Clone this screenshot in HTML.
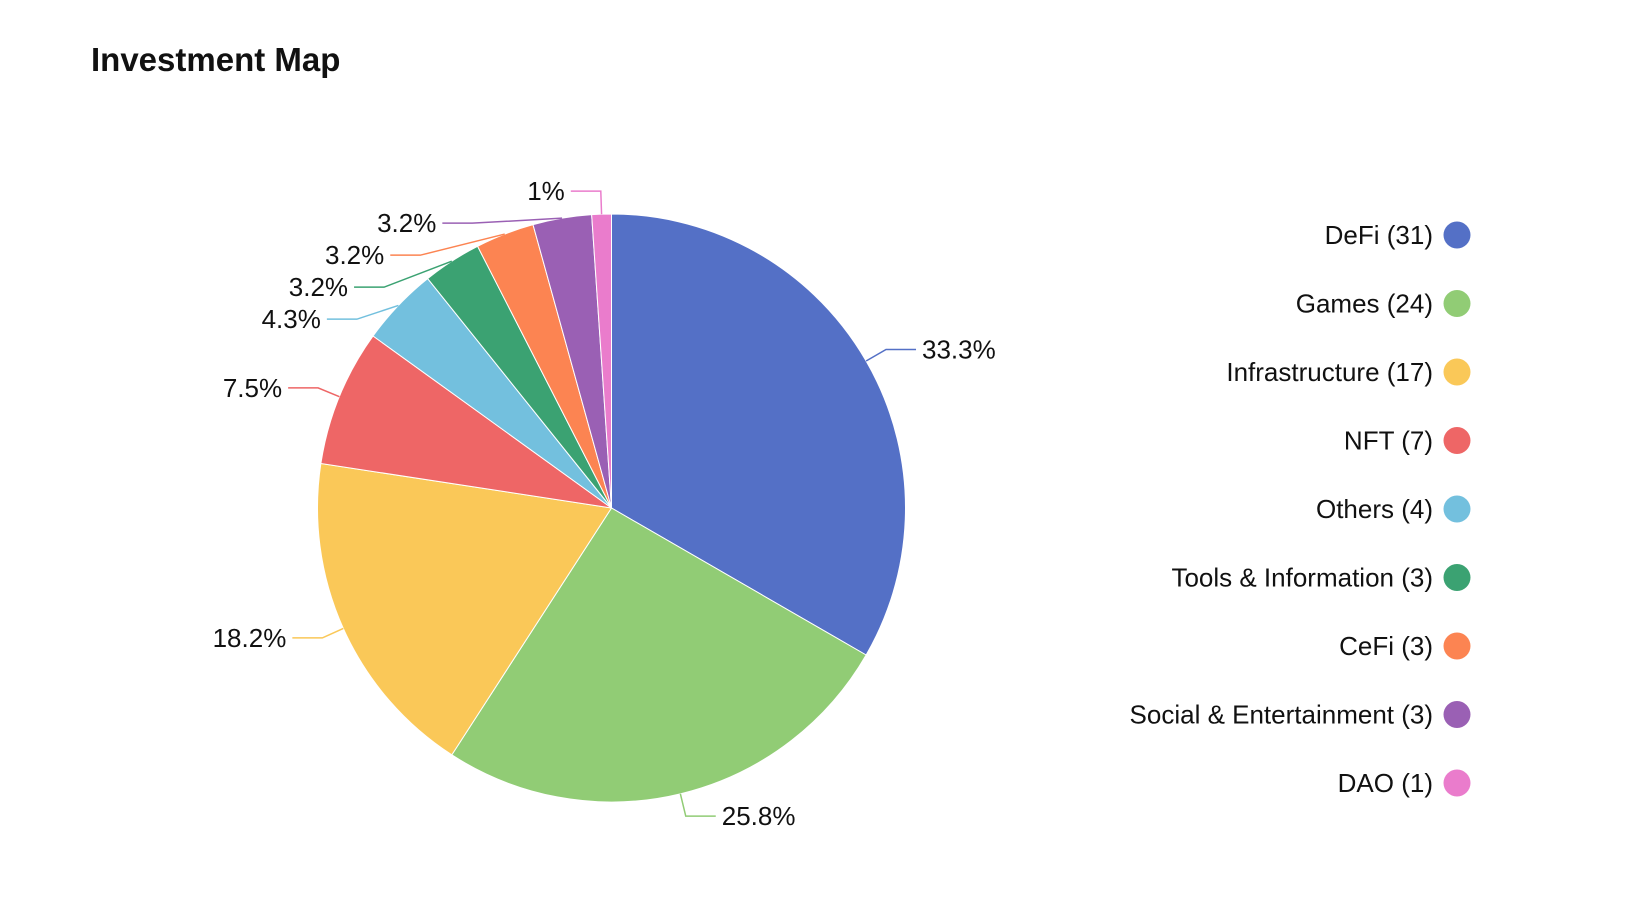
<!DOCTYPE html>
<html><head><meta charset="utf-8"><style>
body{margin:0;background:#fff;width:1628px;height:916px;overflow:hidden;font-family:"Liberation Sans",sans-serif;}
svg{display:block}
</style></head><body>
<svg id="chart" width="1628" height="916" viewBox="0 0 1628 916" xmlns="http://www.w3.org/2000/svg">
<text x="91" y="71" font-size="33" font-weight="bold" fill="#111" font-family="Liberation Sans, sans-serif">Investment Map</text>
<g id="slices"></g><g id="labels"></g><g id="legend"></g>
</svg>
<script>
const categories = ["DeFi","Games","Infrastructure","NFT","Others","Tools & Information","CeFi","Social & Entertainment","DAO"];
const counts = [31,24,17,7,4,3,3,3,1];
const pctLabels = ["33.3%","25.8%","18.2%","7.5%","4.3%","3.2%","3.2%","3.2%","1%"];
const colors = ["#5470c6","#91cc75","#fac858","#ee6666","#73c0de","#3ba272","#fc8452","#9a60b4","#ea7ccc"];

const NS="http://www.w3.org/2000/svg";
const cx=611.5, cy=508, r=294, R2=317, seg2=30;
const total=counts.reduce((a,b)=>a+b,0);
function pt(rad,a){return [cx+rad*Math.sin(a), cy-rad*Math.cos(a)];}
const sg=document.getElementById('slices'), lg=document.getElementById('labels'), leg=document.getElementById('legend');
let acc=0; const info=[];
counts.forEach((v,i)=>{
  const a0=acc/total*2*Math.PI; acc+=v; const a1=acc/total*2*Math.PI;
  const p0=pt(r,a0), p1=pt(r,a1);
  const large=(a1-a0)>Math.PI?1:0;
  const p=document.createElementNS(NS,'path');
  p.setAttribute('d',`M${cx},${cy}L${p0[0]},${p0[1]}A${r},${r} 0 ${large} 1 ${p1[0]},${p1[1]}Z`);
  p.setAttribute('fill',colors[i]); p.setAttribute('stroke','#fff'); p.setAttribute('stroke-width','1');
  
  
  sg.appendChild(p);
  const am=(a0+a1)/2;
  const e=pt(r,am), t=pt(R2,am);
  info.push({i,am,e,tx:t[0],ty:t[1],right:Math.sin(am)>=0});
});
// left-side label push-down avoidance
const left=info.filter(d=>!d.right).sort((a,b)=>a.ty-b.ty);
for(let k=1;k<left.length;k++){ if(left[k].ty<left[k-1].ty+32) left[k].ty=left[k-1].ty+32; }
info.forEach(d=>{
  const dy=d.ty-cy;
  if(Math.abs(dy)<R2){
    const dx=Math.sqrt(R2*R2-dy*dy);
    const nx=cx+(d.right?dx:-dx);
    d.tx = d.right?Math.max(nx,d.tx):Math.min(nx,d.tx);
    if(Math.abs(dy)>=R2-1) d.tx=pt(R2,d.am)[0];
  }
  const ex=d.tx+(d.right?seg2:-seg2);
  const pl=document.createElementNS(NS,'polyline');
  pl.setAttribute('points',`${d.e[0]},${d.e[1]} ${d.tx},${d.ty} ${ex},${d.ty}`);
  pl.setAttribute('fill','none'); pl.setAttribute('stroke',colors[d.i]); pl.setAttribute('stroke-width','1.5');
  
  
  lg.appendChild(pl);
  const tx=document.createElementNS(NS,'text');
  tx.setAttribute('x',ex+(d.right?6:-6)); tx.setAttribute('y',d.ty+9);
  tx.setAttribute('text-anchor',d.right?'start':'end');
  tx.setAttribute('font-size','26'); tx.setAttribute('fill','#111');
  tx.setAttribute('font-family','Liberation Sans, sans-serif');
  tx.textContent=pctLabels[d.i];
  
  
  lg.appendChild(tx);
});
categories.forEach((c,i)=>{
  const y=235+i*68.5;
  const g=document.createElementNS(NS,'g');
  
  
  const t=document.createElementNS(NS,'text');
  t.setAttribute('x',1433); t.setAttribute('y',y+9); t.setAttribute('text-anchor','end');
  t.setAttribute('font-size','26'); t.setAttribute('fill','#111');
  t.setAttribute('font-family','Liberation Sans, sans-serif');
  t.textContent=c+' ('+counts[i]+')';
  const ci=document.createElementNS(NS,'circle');
  ci.setAttribute('cx',1457); ci.setAttribute('cy',y); ci.setAttribute('r',13.5); ci.setAttribute('fill',colors[i]);
  g.appendChild(t); g.appendChild(ci); leg.appendChild(g);
});
</script>
</body></html>
